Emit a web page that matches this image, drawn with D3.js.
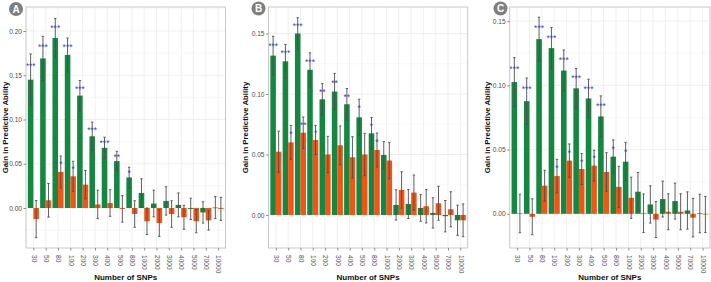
<!DOCTYPE html>
<html>
<head>
<meta charset="utf-8">
<script src="https://cdn.jsdelivr.net/npm/d3@7"></script>
<style>
  body { margin: 0; background: #fff; }
  svg { display: block; font-family: "Liberation Sans", Arial, sans-serif; }
</style>
</head>
<body>
<svg id="chart" width="711" height="282"></svg>
<script>
// categories on the x axis
const categories = ["30", "50", "80", "100", "200", "300", "400", "500", "800",
  "1000", "2000", "3000", "4000", "5000", "7000", "10000"];

// panel A
const greenA = [0.145, 0.169, 0.192, 0.173, 0.127, 0.081, 0.068, 0.053, 0.0345, 0.017, 0.005, 0.008, 0.0035, -0.001, -0.005, 0.0005];
const greenErrA = [0.029, 0.025, 0.022, 0.019, 0.017, 0.016, 0.012, 0.011, 0.0115, 0.016, 0.015, 0.016, 0.0135, 0.012, 0.012, 0.0125];
const orangeA = [-0.0125, 0.0087, 0.0407, 0.0358, 0.0264, 0.004, 0.0056, -0.001, -0.0068, -0.015, -0.017, -0.0068, -0.0105, -0.015, -0.014, -0.001];
const orangeErrA = [0.021, 0.019, 0.018, 0.017, 0.016, 0.016, 0.015, 0.015, 0.015, 0.015, 0.015, 0.015, 0.0135, 0.013, 0.011, 0.013];
const greenStarsA = ["***", "***", "***", "***", "***", "***", "***", "**", "*", "", "", "", "", "", "", ""];
const orangeStarsA = ["", "", "*", "*", "", "", "", "", "", "", "", "", "", "", "", ""];
const yTicksA = [0, 0.05, 0.10, 0.15, 0.20];

// panel B
const greenB = [0.1317, 0.127, 0.150, 0.120, 0.0956, 0.102, 0.0915, 0.0807, 0.0675, 0.0496, 0.0083, 0.0091, 0.0058, 0.0017, -0.001, -0.0044];
const greenErrB = [0.016, 0.014, 0.013, 0.014, 0.013, 0.015, 0.013, 0.015, 0.013, 0.011, 0.0125, 0.012, 0.011, 0.0125, 0.013, 0.0125];
const orangeB = [0.0523, 0.060, 0.068, 0.062, 0.050, 0.0576, 0.0477, 0.050, 0.0537, 0.045, 0.0207, 0.0185, 0.0072, 0.0097, 0.0047, -0.0044];
const orangeErrB = [0.017, 0.014, 0.013, 0.012, 0.015, 0.016, 0.017, 0.0175, 0.014, 0.015, 0.015, 0.0145, 0.0138, 0.014, 0.0145, 0.0135];
const greenStarsB = ["***", "***", "***", "***", "**", "**", "**", "*", "*", "", "", "", "", "", "", ""];
const orangeStarsB = ["", "*", "**", "*", "", "", "", "", "*", "", "", "", "", "", "", ""];
const yTicksB = [0, 0.05, 0.10, 0.15];

// panel C
const greenC = [0.1026, 0.0877, 0.136, 0.129, 0.1115, 0.0977, 0.0898, 0.0758, 0.0445, 0.0406, 0.0172, 0.0073, 0.0115, 0.0099, 0.0026, 0.0003];
const greenErrC = [0.019, 0.018, 0.017, 0.016, 0.016, 0.0155, 0.015, 0.016, 0.013, 0.015, 0.015, 0.0145, 0.014, 0.014, 0.0145, 0.015];
const orangeC = [0.0003, -0.0023, 0.0219, 0.0294, 0.0414, 0.0349, 0.0375, 0.0326, 0.021, 0.0125, 0.0005, -0.0045, 0.0016, 0.0016, -0.003, -0.0005];
const orangeErrC = [0.015, 0.014, 0.012, 0.013, 0.013, 0.012, 0.012, 0.015, 0.016, 0.016, 0.015, 0.014, 0.014, 0.014, 0.015, 0.014];
const greenStarsC = ["***", "***", "***", "***", "***", "***", "***", "***", "*", "*", "", "", "", "", "", ""];
const orangeStarsC = ["", "", "", "*", "*", "*", "*", "", "", "", "", "", "", "", "", ""];
const yTicksC = [0, 0.05, 0.10, 0.15];

const GREEN = "#148741";
const ORANGE = "#F05514";
const STAR = "#3F3FB5";

const svg = d3.select("#chart");

// panel layout (pixels) and y range
const panels = [
  { letter: "A", left: 26, right: 225.5, yDomain: [-0.0452, 0.2271], ticks: yTicksA,
    green: greenA, greenErr: greenErrA, orange: orangeA, orangeErr: orangeErrA,
    greenStars: greenStarsA, orangeStars: orangeStarsA, badge: [16, 9], ylabX: 5 },
  { letter: "B", left: 268.5, right: 467.7, yDomain: [-0.0273, 0.1719], ticks: yTicksB,
    green: greenB, greenErr: greenErrB, orange: orangeB, orangeErr: orangeErrB,
    greenStars: greenStarsB, orangeStars: orangeStarsB, badge: [258.5, 8.5], ylabX: 245 },
  { letter: "C", left: 509.7, right: 710, yDomain: [-0.0266, 0.161], ticks: yTicksC,
    green: greenC, greenErr: greenErrC, orange: orangeC, orangeErr: orangeErrC,
    greenStars: greenStarsC, orangeStars: orangeStarsC, badge: [500.5, 8.5], ylabX: 487 }
];

const plotTop = 7, plotBottom = 248;

panels.forEach(p => {
  const g = svg.append("g");

  const x = d3.scalePoint()
    .domain(categories)
    .range([p.left, p.right])
    .padding(0.6);
  const step = x.step();
  const barW = step * 0.45;

  const y = d3.scaleLinear()
    .domain(p.yDomain)
    .range([plotBottom, plotTop]);

  // background + grid
  g.append("rect")
    .attr("x", p.left).attr("y", plotTop)
    .attr("width", p.right - p.left).attr("height", plotBottom - plotTop)
    .attr("fill", "#fff");

  const minor = d3.range(-0.025, p.yDomain[1], 0.05);
  g.selectAll(".minor")
    .data(minor)
    .enter().append("line")
    .attr("x1", p.left).attr("x2", p.right)
    .attr("y1", d => y(d)).attr("y2", d => y(d))
    .attr("stroke", "#F4F4F4").attr("stroke-width", 0.6);

  g.selectAll(".hmajor")
    .data(p.ticks)
    .enter().append("line")
    .attr("x1", p.left).attr("x2", p.right)
    .attr("y1", d => y(d)).attr("y2", d => y(d))
    .attr("stroke", "#EBEBEB").attr("stroke-width", 0.8);

  g.selectAll(".vmajor")
    .data(categories)
    .enter().append("line")
    .attr("x1", d => x(d)).attr("x2", d => x(d))
    .attr("y1", plotTop).attr("y2", plotBottom)
    .attr("stroke", "#EBEBEB").attr("stroke-width", 0.8);

  // bars
  const rows = categories.map((c, i) => ({
    c,
    g: p.green[i], ge: p.greenErr[i], gs: p.greenStars[i],
    o: p.orange[i], oe: p.orangeErr[i], os: p.orangeStars[i]
  }));

  g.selectAll(".gbar")
    .data(rows)
    .enter().append("rect")
    .attr("x", d => x(d.c) - barW)
    .attr("width", barW)
    .attr("y", d => y(Math.max(0, d.g)))
    .attr("height", d => Math.max(0.6, Math.abs(y(d.g) - y(0))))
    .attr("fill", GREEN);

  g.selectAll(".obar")
    .data(rows)
    .enter().append("rect")
    .attr("x", d => x(d.c))
    .attr("width", barW)
    .attr("y", d => y(Math.max(0, d.o)))
    .attr("height", d => Math.max(0.6, Math.abs(y(d.o) - y(0))))
    .attr("fill", ORANGE);

  // error bars
  const errs = [];
  rows.forEach(d => {
    errs.push({ cx: x(d.c) - barW / 2, v: d.g, e: d.ge, s: d.gs });
    errs.push({ cx: x(d.c) + barW / 2, v: d.o, e: d.oe, s: d.os });
  });

  const eb = g.selectAll(".err")
    .data(errs)
    .enter().append("g")
    .attr("stroke", "#4D4D4D")
    .attr("stroke-width", 0.9);
  eb.append("line")
    .attr("x1", d => d.cx).attr("x2", d => d.cx)
    .attr("y1", d => y(d.v + d.e)).attr("y2", d => y(d.v - d.e));
  eb.append("line")
    .attr("x1", d => d.cx - 1.2).attr("x2", d => d.cx + 1.2)
    .attr("y1", d => y(d.v + d.e)).attr("y2", d => y(d.v + d.e));
  eb.append("line")
    .attr("x1", d => d.cx - 1.2).attr("x2", d => d.cx + 1.2)
    .attr("y1", d => y(d.v - d.e)).attr("y2", d => y(d.v - d.e));

  // significance stars
  g.selectAll(".star")
    .data(errs.filter(d => d.s))
    .enter().append("text")
    .attr("x", d => d.cx)
    .attr("y", d => y(d.v + d.e * 0.6) + 5)
    .attr("text-anchor", "middle")
    .attr("font-size", "8.5px")
    .attr("fill", STAR)
    .text(d => d.s);

  // panel border
  g.append("rect")
    .attr("x", p.left).attr("y", plotTop)
    .attr("width", p.right - p.left).attr("height", plotBottom - plotTop)
    .attr("fill", "none")
    .attr("stroke", "#C8C8C8")
    .attr("stroke-width", 1);

  // y axis
  const yAxis = g.append("g")
    .attr("transform", `translate(${p.left},0)`)
    .call(d3.axisLeft(y).tickValues(p.ticks).tickFormat(d3.format(".2f")).tickSize(2.5).tickPadding(1.5));
  yAxis.select(".domain").remove();
  yAxis.selectAll("line").attr("stroke", "#8C8C8C");
  yAxis.selectAll("text")
    .attr("font-size", "6.6px")
    .attr("fill", "#4D4D4D")
    .attr("font-family", "Liberation Sans, Arial, sans-serif");

  // x axis
  const xAxis = g.append("g")
    .attr("transform", `translate(0,${plotBottom})`)
    .call(d3.axisBottom(x).tickSize(2.5).tickPadding(0));
  xAxis.select(".domain").remove();
  xAxis.selectAll("line").attr("stroke", "#8C8C8C");
  xAxis.selectAll("text")
    .attr("font-size", "6.6px")
    .attr("fill", "#4D4D4D")
    .attr("font-family", "Liberation Sans, Arial, sans-serif")
    .attr("text-anchor", "start")
    .attr("transform", "rotate(90)")
    .attr("x", 7)
    .attr("y", 0)
    .attr("dy", "0.35em");

  // axis titles
  g.append("text")
    .attr("transform", `translate(${p.ylabX + 3},${(plotTop + plotBottom) / 2}) rotate(-90)`)
    .attr("text-anchor", "middle")
    .attr("font-size", "7.8px")
    .attr("font-weight", "bold")
    .attr("fill", "#111")
    .text("Gain in Predictive Ability");

  g.append("text")
    .attr("x", (p.left + p.right) / 2)
    .attr("y", 280)
    .attr("text-anchor", "middle")
    .attr("font-size", "8px")
    .attr("font-weight", "bold")
    .attr("fill", "#111")
    .text("Number of SNPs");

  // panel badge
  g.append("circle")
    .attr("cx", p.badge[0]).attr("cy", p.badge[1]).attr("r", 7)
    .attr("fill", "#7F7F7F");
  g.append("text")
    .attr("x", p.badge[0]).attr("y", p.badge[1] + 3.5)
    .attr("text-anchor", "middle")
    .attr("font-size", "10px")
    .attr("font-weight", "bold")
    .attr("fill", "#fff")
    .text(p.letter);
});
</script>
</body>
</html>
